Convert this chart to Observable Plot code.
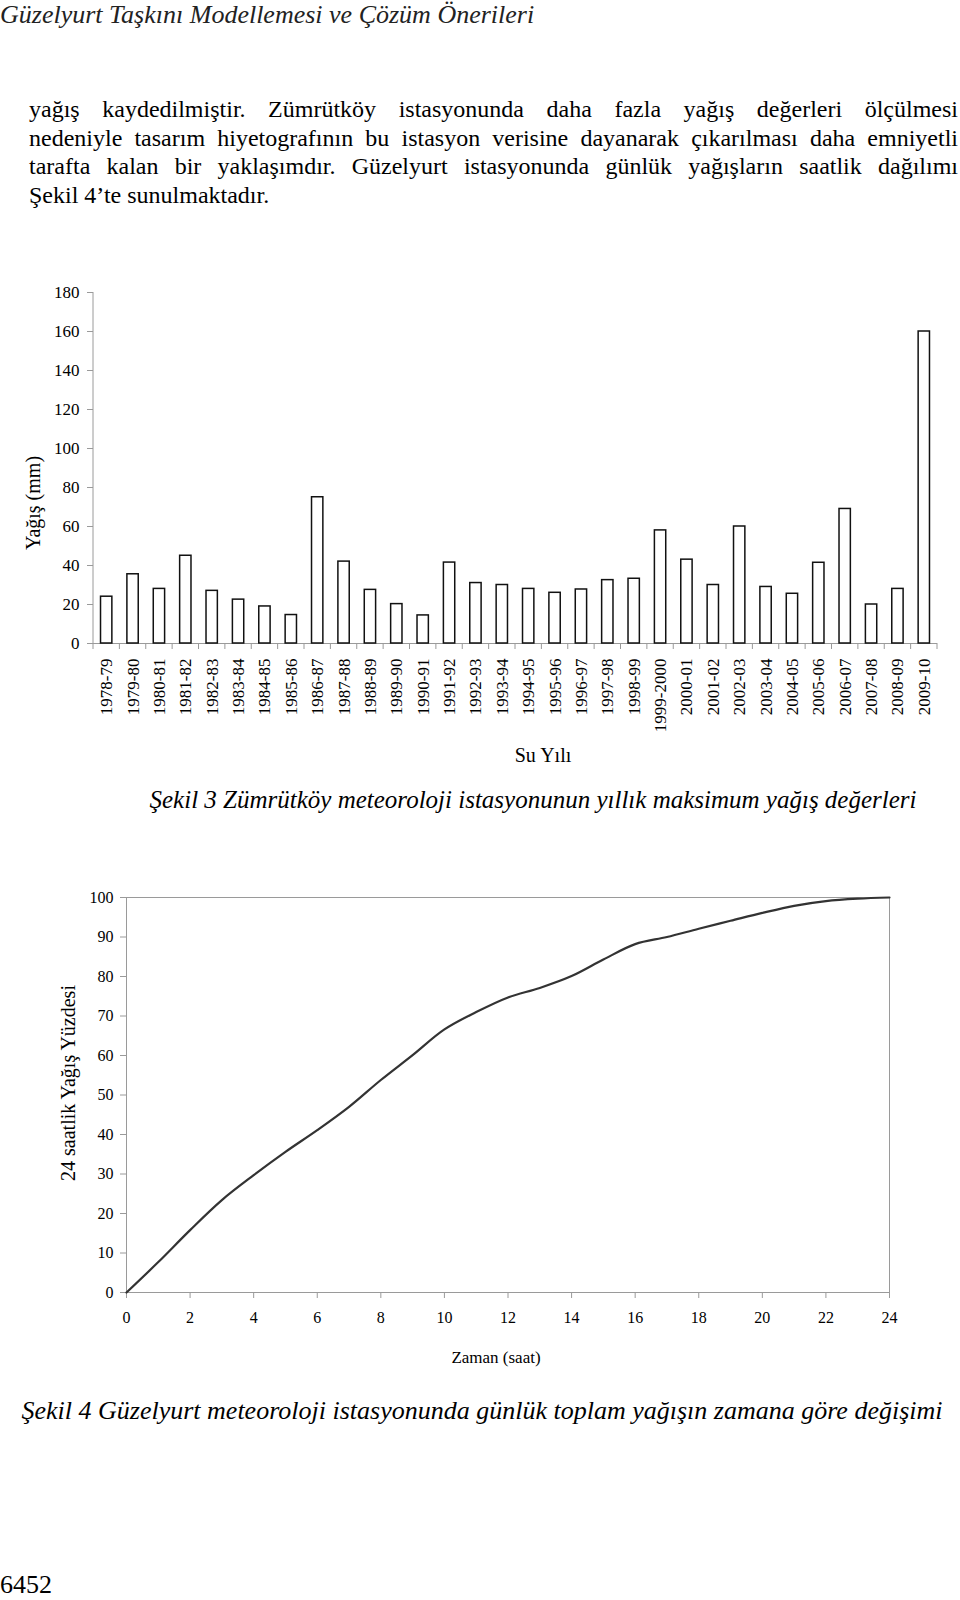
<!DOCTYPE html>
<html>
<head>
<meta charset="utf-8">
<script src="https://cdn.jsdelivr.net/npm/d3@7"></script>
<script src="https://cdn.jsdelivr.net/npm/@observablehq/plot@0.6"></script>
<style>
  html, body { margin: 0; padding: 0; background: #fff; }
  #page { position: relative; width: 960px; height: 1600px; overflow: hidden; font-family: "Liberation Serif", "Times New Roman", serif; color: #000; }
  .abs { position: absolute; white-space: nowrap; }
  .line { position: absolute; left: 29px; width: 929px; font-size: 24px; line-height: 29px; white-space: nowrap; }
  .just { text-align: justify; text-align-last: justify; }
  .ital { font-style: italic; }
  .rot { transform: translate(-50%, -50%) rotate(-90deg); }
  .ctr { transform: translate(-50%, -50%); }
  #chart1 { position: absolute; left: 0; top: 270px; }
  #chart2 { position: absolute; left: 0; top: 870px; }
</style>
</head>
<body>
<div id="page">
  <div class="abs ital" style="left:0;top:0;font-size:26px;line-height:30px;color:#222">Güzelyurt Taşkını Modellemesi ve Çözüm Önerileri</div>

  <div class="line just" style="top:95px">yağış kaydedilmiştir. Zümrütköy istasyonunda daha fazla yağış değerleri ölçülmesi</div>
  <div class="line just" style="top:124px">nedeniyle tasarım hiyetografının bu istasyon verisine dayanarak çıkarılması daha emniyetli</div>
  <div class="line just" style="top:152px">tarafta kalan bir yaklaşımdır. Güzelyurt istasyonunda günlük yağışların saatlik dağılımı</div>
  <div class="line" style="top:181px">Şekil 4’te sunulmaktadır.</div>

  <div id="chart1"></div>
  <div class="abs rot" style="left:33px;top:503px;font-size:20px">Yağış (mm)</div>
  <div class="abs ctr" style="left:543px;top:755px;font-size:20px">Su Yılı</div>

  <div class="abs ital ctr" style="left:533px;top:800px;font-size:25px">Şekil 3 Zümrütköy meteoroloji istasyonunun yıllık maksimum yağış değerleri</div>

  <div id="chart2"></div>
  <div class="abs rot" style="left:68px;top:1083px;font-size:20px">24 saatlik Yağış Yüzdesi</div>
  <div class="abs ctr" style="left:496px;top:1358px;font-size:17px">Zaman (saat)</div>

  <div class="abs ital ctr" style="left:482px;top:1411px;font-size:26px">Şekil 4 Güzelyurt meteoroloji istasyonunda günlük toplam yağışın zamana göre değişimi</div>

  <div class="abs" style="left:0;top:1570px;font-size:26px;line-height:30px">6452</div>
</div>

<script>
// ---- Chart 1 data: annual maximum rainfall, Zümrütköy ----
const waterYears = ["1978-79","1979-80","1980-81","1981-82","1982-83","1983-84","1984-85","1985-86",
  "1986-87","1987-88","1988-89","1989-90","1990-91","1991-92","1992-93","1993-94","1994-95","1995-96",
  "1996-97","1997-98","1998-99","1999-2000","2000-01","2001-02","2002-03","2003-04","2004-05","2005-06",
  "2006-07","2007-08","2008-09","2009-10"];
const maxRain = [24, 35.5, 28, 45, 27, 22.5, 19, 14.6, 75, 42, 27.5, 20.2, 14.4, 41.5, 31, 30, 28, 26,
  27.7, 32.5, 33.2, 58, 43, 30, 60, 29, 25.5, 41.4, 69, 20, 28, 160];
const rainTicks = [0, 20, 40, 60, 80, 100, 120, 140, 160, 180];

// ---- Chart 2 data: cumulative 24-hour rainfall percentage, Güzelyurt ----
const hours = [0,1,2,3,4,5,6,7,8,9,10,11,12,13,14,15,16,17,18,19,20,21,22,23,24];
const cumPct = [0, 7.7, 15.8, 23.4, 29.7, 35.6, 41.1, 47, 53.8, 60.1, 66.6, 71, 74.7, 77.1, 80.1,
  84.3, 88.2, 90, 92.1, 94.1, 96.1, 97.9, 99.1, 99.7, 100];
const hourTicks = [0, 2, 4, 6, 8, 10, 12, 14, 16, 18, 20, 22, 24];
const pctTicks = [0, 10, 20, 30, 40, 50, 60, 70, 80, 90, 100];

const axisGray = "#9a9a9a";

const barData = waterYears.map((year, i) => ({year, value: maxRain[i]}));

// left axis line + category-boundary ticks (Excel-style)
function categoryAxisFrame(index, scales, values, dims) {
  const {width, height, marginLeft, marginRight, marginTop, marginBottom} = dims;
  const x0 = marginLeft, x1 = width - marginRight, yb = height - marginBottom;
  const g = d3.create("svg:g").attr("stroke", axisGray).attr("fill", "none");
  g.append("line").attr("x1", x0).attr("x2", x0).attr("y1", marginTop).attr("y2", yb);
  const n = waterYears.length;
  for (let i = 0; i <= n; i++) {
    const xi = x0 + (x1 - x0) * i / n;
    g.append("line").attr("x1", xi).attr("x2", xi).attr("y1", yb).attr("y2", yb + 6);
  }
  return g.node();
}

const chart1 = Plot.plot({
  width: 960, height: 480,
  marginLeft: 93, marginRight: 23, marginTop: 22, marginBottom: 107,
  style: {fontFamily: "'Liberation Serif', 'Times New Roman', serif", fontSize: "17px", color: "#000", background: "#fff"},
  x: {domain: waterYears, paddingInner: 0.57, paddingOuter: 0.285, round: false, label: null},
  y: {domain: [0, 180], label: null},
  marks: [
    Plot.ruleY([0], {stroke: axisGray}),
    Plot.barY(barData, {x: "year", y: "value", fill: "white", stroke: "#111", strokeWidth: 1.5}),
    Plot.axisY({ticks: rainTicks, tickSize: 6, tickPadding: 8, stroke: axisGray, label: null}),
    Plot.axisX({tickRotate: -90, tickSize: 0, tickPadding: 15, label: null}),
    categoryAxisFrame
  ]
});
document.getElementById("chart1").append(chart1);

const lineData = hours.map((h, i) => ({h, p: cumPct[i]}));
const chart2 = Plot.plot({
  width: 960, height: 460,
  marginLeft: 126, marginRight: 71, marginTop: 27, marginBottom: 38,
  style: {fontFamily: "'Liberation Serif', 'Times New Roman', serif", fontSize: "16px", color: "#000", background: "#fff"},
  x: {domain: [0, 24], label: null},
  y: {domain: [0, 100], label: null},
  marks: [
    Plot.frame({stroke: axisGray}),
    Plot.axisY({ticks: pctTicks, tickSize: 6, tickPadding: 7, stroke: axisGray, label: null}),
    Plot.axisX({ticks: hourTicks, tickSize: 6, tickPadding: 13, stroke: axisGray, label: null}),
    Plot.line(lineData, {x: "h", y: "p", curve: "catmull-rom", stroke: "#333", strokeWidth: 2.2})
  ]
});
document.getElementById("chart2").append(chart2);
</script>
</body>
</html>
